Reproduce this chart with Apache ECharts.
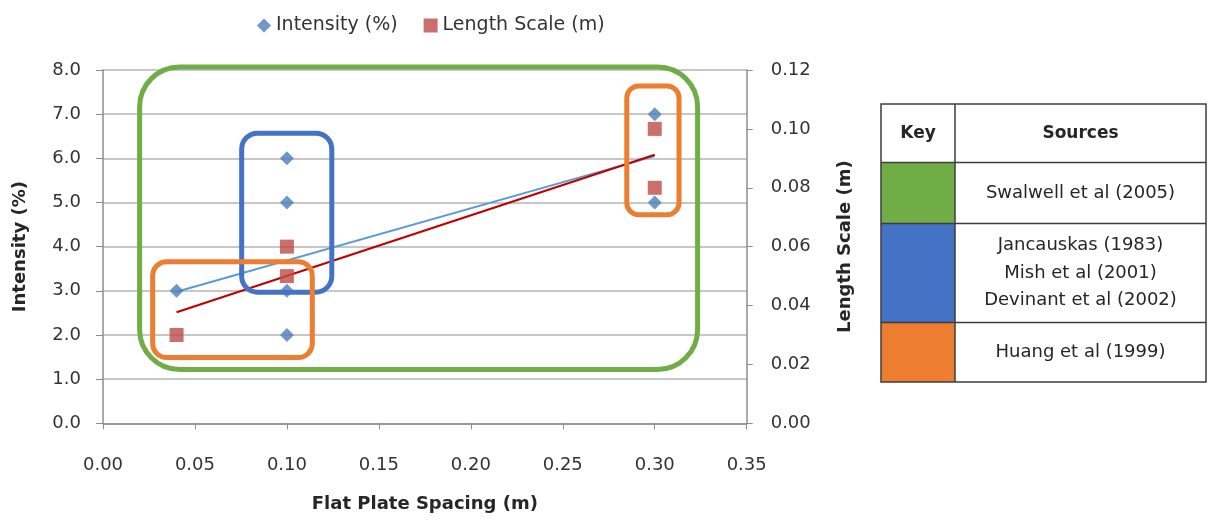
<!DOCTYPE html>
<html>
<head>
<meta charset="utf-8">
<script src="https://cdn.jsdelivr.net/npm/echarts@6/dist/echarts.min.js"></script>
<style>
  html, body { margin: 0; padding: 0; background: #ffffff; }
  #chart { width: 1212px; height: 520px; }
</style>
</head>
<body>
<div id="chart"></div>
<script>
// Turbulence intensity and length scale against flat plate spacing
const spacingIntensity = [0.04, 0.10, 0.10, 0.10, 0.10, 0.30, 0.30];
const intensity = [3.0, 6.0, 5.0, 3.0, 2.0, 7.0, 5.0];
const spacingLength = [0.04, 0.10, 0.10, 0.30, 0.30];
const lengthScale = [0.03, 0.06, 0.05, 0.10, 0.08];

// Linear trend lines (end points)
const trendX = [0.04, 0.30];
const intensityTrend = [2.98, 6.05];
const lengthTrend = [0.0377, 0.0912];

// Axis ticks
const xTicks = { min: 0, max: 0.35, step: 0.05 };
const leftTicks = { min: 0, max: 8, step: 1 };
const rightTicks = { min: 0, max: 0.12, step: 0.02 };

// Source groupings, outlined in data units (spacing / intensity)
const groupColor = ['#70ad47', '#4472c4', '#ed7d31', '#ed7d31'];
const groupXMin = [0.0199, 0.0754, 0.0270, 0.2848];
const groupXMax = [0.3233, 0.1244, 0.1138, 0.3132];
const groupYMin = [1.22, 2.97, 1.49, 4.72];
const groupYMax = [8.07, 6.57, 3.66, 7.64];
const groupRadius = [40, 16, 14, 12];

// Key table
const keyHeader = ['Key', 'Sources'];
const keyColors = ['#70ad47', '#4472c4', '#ed7d31'];
const keySources = [
  ['Swalwell et al (2005)'],
  ['Jancauskas (1983)', 'Mish et al (2001)', 'Devinant et al (2002)'],
  ['Huang et al (1999)']
];

const FONT = '"DejaVu Sans", "Liberation Sans", sans-serif';
const TXT = '#333333';

const zip = (xs, ys) => xs.map((x, i) => [x, ys[i]]);

const chart = echarts.init(document.getElementById('chart'), null, { renderer: 'canvas' });

const option = {
  animation: false,
  backgroundColor: '#ffffff',
  textStyle: { fontFamily: FONT },
  grid: { left: 103, right: 465.3, top: 70, bottom: 96.7, containLabel: false },
  legend: {
    data: ['Intensity (%)', 'Length Scale (m)'],
    left: 252, top: 11,
    itemWidth: 14, itemHeight: 14, itemGap: 26,
    textStyle: { fontFamily: FONT, fontSize: 19, color: TXT }
  },
  xAxis: {
    type: 'value',
    min: xTicks.min, max: xTicks.max, interval: xTicks.step,
    name: 'Flat Plate Spacing (m)', nameLocation: 'middle', nameGap: 72,
    nameTextStyle: { fontFamily: FONT, fontSize: 18, fontWeight: 'bold', color: '#262626' },
    axisLine: { show: true, lineStyle: { color: '#8c8c8c', width: 1.5 } },
    axisTick: { show: true, length: 6, lineStyle: { color: '#8c8c8c' } },
    axisLabel: { margin: 33, fontSize: 18, color: TXT, formatter: v => v.toFixed(2) },
    splitLine: { show: false }
  },
  yAxis: [
    {
      type: 'value', position: 'left',
      min: leftTicks.min, max: leftTicks.max, interval: leftTicks.step,
      name: 'Intensity (%)', nameLocation: 'middle', nameRotate: 90, nameGap: 74,
      nameTextStyle: { fontFamily: FONT, fontSize: 18, fontWeight: 'bold', color: '#262626' },
      axisLine: { show: true, lineStyle: { color: '#8c8c8c', width: 1.5 } },
      axisTick: { show: true, length: 7, lineStyle: { color: '#8c8c8c' } },
      axisLabel: { margin: 22, fontSize: 18, color: TXT, formatter: v => v.toFixed(1) },
      splitLine: { show: true, lineStyle: { color: '#b4b4b4', width: 1.5 } }
    },
    {
      type: 'value', position: 'right',
      min: rightTicks.min, max: rightTicks.max, interval: rightTicks.step,
      name: 'Length Scale (m)', nameLocation: 'middle', nameRotate: 90, nameGap: 90,
      nameTextStyle: { fontFamily: FONT, fontSize: 18, fontWeight: 'bold', color: '#262626' },
      axisLine: { show: true, lineStyle: { color: '#8c8c8c', width: 1.5 } },
      axisTick: { show: true, length: 6, lineStyle: { color: '#8c8c8c' } },
      axisLabel: { margin: 24, fontSize: 18, color: TXT, formatter: v => v.toFixed(2) },
      splitLine: { show: false }
    }
  ],
  series: [
    {
      name: 'Intensity trend', type: 'line', yAxisIndex: 0,
      data: zip(trendX, intensityTrend), symbol: 'none', silent: true,
      lineStyle: { color: '#5b9bd5', width: 2 }, z: 1
    },
    {
      name: 'Length trend', type: 'line', yAxisIndex: 1,
      data: zip(trendX, lengthTrend), symbol: 'none', silent: true,
      lineStyle: { color: '#c00000', width: 2.2 }, z: 1
    },
    {
      name: 'Intensity (%)', type: 'scatter', yAxisIndex: 0,
      data: zip(spacingIntensity, intensity),
      symbol: 'diamond', symbolSize: 14,
      itemStyle: { color: '#4a7ebb' }, z: 3
    },
    {
      name: 'Length Scale (m)', type: 'scatter', yAxisIndex: 1,
      data: zip(spacingLength, lengthScale),
      symbol: 'rect', symbolSize: 14,
      itemStyle: { color: '#be4b48' }, z: 3
    }
  ]
};

chart.setOption(option);

// Group outlines and key table
const graphics = [];
groupColor.forEach((c, i) => {
  const p0 = chart.convertToPixel({ xAxisIndex: 0, yAxisIndex: 0 }, [groupXMin[i], groupYMax[i]]);
  const p1 = chart.convertToPixel({ xAxisIndex: 0, yAxisIndex: 0 }, [groupXMax[i], groupYMin[i]]);
  graphics.push({
    type: 'rect', z: 100, silent: true,
    shape: { x: p0[0], y: p0[1], width: p1[0] - p0[0], height: p1[1] - p0[1], r: groupRadius[i] },
    style: { fill: 'none', stroke: c, lineWidth: 5 }
  });
});

const tbl = { left: 881, right: 1206, mid: 955, rows: [104, 162.5, 223.5, 322.5, 382] };
const border = '#3c3c3c';
keyColors.forEach((c, i) => {
  graphics.push({
    type: 'rect', z: 100, silent: true,
    shape: { x: tbl.left, y: tbl.rows[i + 1], width: tbl.mid - tbl.left, height: tbl.rows[i + 2] - tbl.rows[i + 1] },
    style: { fill: c }
  });
});
graphics.push({
  type: 'rect', z: 101, silent: true,
  shape: { x: tbl.left, y: tbl.rows[0], width: tbl.right - tbl.left, height: tbl.rows[4] - tbl.rows[0] },
  style: { fill: 'none', stroke: border, lineWidth: 1.5 }
});
tbl.rows.slice(1, 4).forEach(y => {
  graphics.push({
    type: 'line', z: 101, silent: true,
    shape: { x1: tbl.left, y1: y, x2: tbl.right, y2: y },
    style: { stroke: border, lineWidth: 1.5 }
  });
});
graphics.push({
  type: 'line', z: 101, silent: true,
  shape: { x1: tbl.mid, y1: tbl.rows[0], x2: tbl.mid, y2: tbl.rows[4] },
  style: { stroke: border, lineWidth: 1.5 }
});
const srcX = (tbl.mid + tbl.right) / 2;
graphics.push({
  type: 'text', z: 102, silent: true,
  style: { text: keyHeader[0], x: (tbl.left + tbl.mid) / 2, y: (tbl.rows[0] + tbl.rows[1]) / 2,
    align: 'center', verticalAlign: 'middle', fill: '#262626', font: 'bold 17px ' + FONT }
});
graphics.push({
  type: 'text', z: 102, silent: true,
  style: { text: keyHeader[1], x: srcX, y: (tbl.rows[0] + tbl.rows[1]) / 2,
    align: 'center', verticalAlign: 'middle', fill: '#262626', font: 'bold 17px ' + FONT }
});
keySources.forEach((lines, i) => {
  const cy = (tbl.rows[i + 1] + tbl.rows[i + 2]) / 2;
  const lh = 27.5;
  lines.forEach((t, j) => {
    graphics.push({
      type: 'text', z: 102, silent: true,
      style: { text: t, x: srcX, y: cy + (j - (lines.length - 1) / 2) * lh,
        align: 'center', verticalAlign: 'middle', fill: '#262626', font: '18px ' + FONT }
    });
  });
});

chart.setOption({ graphic: graphics });
</script>
</body>
</html>
